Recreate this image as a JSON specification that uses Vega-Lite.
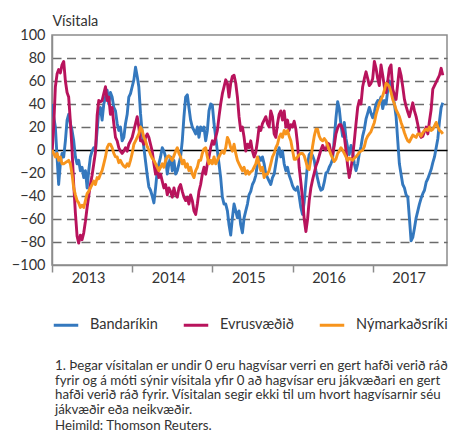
{
"$schema": "https://vega.github.io/schema/vega-lite/v6.json",
"width": 395,
"height": 230,
"autosize": {"type": "none"},
"padding": {"left": 52, "top": 35, "right": 7, "bottom": 170},
"background": "white",
"config": {"font": "Lato", "view": {"stroke": "#8c8c8c", "strokeWidth": 1.5}},
"title": {
"text": ["1. Þegar vísitalan er undir 0 eru hagvísar verri en gert hafði verið ráð", "fyrir og á móti sýnir vísitala yfir 0 að hagvísar eru jákvæðari en gert", "hafði verið ráð fyrir. Vísitalan segir ekki til um hvort hagvísarnir séu", "jákvæðir eða neikvæðir."],
"subtitle": "Heimild: Thomson Reuters.",
"orient": "bottom", "anchor": "start", "frame": "group", "offset": 27,
"fontSize": 13.3, "fontWeight": "normal", "color": "#333333", "lineHeight": 14.6,
"subtitleFontSize": 13.3, "subtitleColor": "#333333", "subtitlePadding": 3, "dx": 3
},
"data": {"values": [
{"t":2013,"Bandaríkin":40,"Evrusvæðið":-3,"Nýmarkaðsríki":0},
{"t":2013.021,"Bandaríkin":29,"Evrusvæðið":20,"Nýmarkaðsríki":-3},
{"t":2013.042,"Bandaríkin":20,"Evrusvæðið":55,"Nýmarkaðsríki":-6},
{"t":2013.063,"Bandaríkin":-6,"Evrusvæðið":66,"Nýmarkaðsríki":-3},
{"t":2013.083,"Bandaríkin":-30,"Evrusvæðið":70,"Nýmarkaðsríki":-9},
{"t":2013.104,"Bandaríkin":-12,"Evrusvæðið":67,"Nýmarkaðsríki":-6},
{"t":2013.125,"Bandaríkin":-3,"Evrusvæðið":74,"Nýmarkaðsríki":-12},
{"t":2013.146,"Bandaríkin":-6,"Evrusvæðið":77,"Nýmarkaðsríki":-12},
{"t":2013.167,"Bandaríkin":8,"Evrusvæðið":60,"Nýmarkaðsríki":-11},
{"t":2013.188,"Bandaríkin":26,"Evrusvæðið":50,"Nýmarkaðsríki":-10},
{"t":2013.208,"Bandaríkin":31,"Evrusvæðið":46,"Nýmarkaðsríki":-9},
{"t":2013.229,"Bandaríkin":23,"Evrusvæðið":25,"Nýmarkaðsríki":-12},
{"t":2013.25,"Bandaríkin":17,"Evrusvæðið":0,"Nýmarkaðsríki":-21},
{"t":2013.271,"Bandaríkin":8,"Evrusvæðið":-30,"Nýmarkaðsríki":-33},
{"t":2013.292,"Bandaríkin":-6,"Evrusvæðið":-55,"Nýmarkaðsríki":-39},
{"t":2013.313,"Bandaríkin":-12,"Evrusvæðið":-75,"Nýmarkaðsríki":-44},
{"t":2013.333,"Bandaríkin":-9,"Evrusvæðið":-81,"Nýmarkaðsríki":-46},
{"t":2013.354,"Bandaríkin":-18,"Evrusvæðið":-74,"Nýmarkaðsríki":-50},
{"t":2013.375,"Bandaríkin":-15,"Evrusvæðið":-78,"Nýmarkaðsríki":-48},
{"t":2013.396,"Bandaríkin":-24,"Evrusvæðið":-72,"Nýmarkaðsríki":-50},
{"t":2013.417,"Bandaríkin":-18,"Evrusvæðið":-62,"Nýmarkaðsríki":-44},
{"t":2013.438,"Bandaríkin":-33,"Evrusvæðið":-50,"Nýmarkaðsríki":-38},
{"t":2013.458,"Bandaríkin":-18,"Evrusvæðið":-40,"Nýmarkaðsríki":-36},
{"t":2013.479,"Bandaríkin":-6,"Evrusvæðið":-30,"Nýmarkaðsríki":-33},
{"t":2013.5,"Bandaríkin":-1,"Evrusvæðið":-22,"Nýmarkaðsríki":-30},
{"t":2013.521,"Bandaríkin":2,"Evrusvæðið":-12,"Nýmarkaðsríki":-27},
{"t":2013.542,"Bandaríkin":-1,"Evrusvæðið":-2,"Nýmarkaðsríki":-30},
{"t":2013.563,"Bandaríkin":17,"Evrusvæðið":30,"Nýmarkaðsríki":-24},
{"t":2013.583,"Bandaríkin":34,"Evrusvæðið":43,"Nýmarkaðsríki":-25},
{"t":2013.604,"Bandaríkin":37,"Evrusvæðið":42,"Nýmarkaðsríki":-21},
{"t":2013.625,"Bandaríkin":26,"Evrusvæðið":43,"Nýmarkaðsríki":-18},
{"t":2013.646,"Bandaríkin":40,"Evrusvæðið":49,"Nýmarkaðsríki":-12},
{"t":2013.667,"Bandaríkin":46,"Evrusvæðið":55,"Nýmarkaðsríki":-6},
{"t":2013.688,"Bandaríkin":52,"Evrusvæðið":43,"Nýmarkaðsríki":2},
{"t":2013.708,"Bandaríkin":40,"Evrusvæðið":46,"Nýmarkaðsríki":5},
{"t":2013.729,"Bandaríkin":50,"Evrusvæðið":31,"Nýmarkaðsríki":5},
{"t":2013.75,"Bandaríkin":46,"Evrusvæðið":37,"Nýmarkaðsríki":2},
{"t":2013.771,"Bandaríkin":37,"Evrusvæðið":23,"Nýmarkaðsríki":-3},
{"t":2013.792,"Bandaríkin":34,"Evrusvæðið":11,"Nýmarkaðsríki":-6},
{"t":2013.813,"Bandaríkin":23,"Evrusvæðið":8,"Nýmarkaðsríki":-6},
{"t":2013.833,"Bandaríkin":17,"Evrusvæðið":2,"Nýmarkaðsríki":-11},
{"t":2013.854,"Bandaríkin":20,"Evrusvæðið":-1,"Nýmarkaðsríki":-9},
{"t":2013.875,"Bandaríkin":8,"Evrusvæðið":-3,"Nýmarkaðsríki":-12},
{"t":2013.896,"Bandaríkin":11,"Evrusvæðið":-1,"Nýmarkaðsríki":-14},
{"t":2013.917,"Bandaríkin":23,"Evrusvæðið":2,"Nýmarkaðsríki":-15},
{"t":2013.938,"Bandaríkin":31,"Evrusvæðið":-1,"Nýmarkaðsríki":-12},
{"t":2013.958,"Bandaríkin":46,"Evrusvæðið":5,"Nýmarkaðsríki":-14},
{"t":2013.979,"Bandaríkin":49,"Evrusvæðið":8,"Nýmarkaðsríki":-9},
{"t":2014,"Bandaríkin":55,"Evrusvæðið":11,"Nýmarkaðsríki":-3},
{"t":2014.021,"Bandaríkin":61,"Evrusvæðið":17,"Nýmarkaðsríki":5},
{"t":2014.042,"Bandaríkin":72,"Evrusvæðið":23,"Nýmarkaðsríki":8},
{"t":2014.063,"Bandaríkin":64,"Evrusvæðið":29,"Nýmarkaðsríki":11},
{"t":2014.083,"Bandaríkin":55,"Evrusvæðið":20,"Nýmarkaðsríki":14},
{"t":2014.104,"Bandaríkin":32,"Evrusvæðið":8,"Nýmarkaðsríki":20},
{"t":2014.125,"Bandaríkin":15,"Evrusvæðið":8,"Nýmarkaðsríki":17},
{"t":2014.146,"Bandaríkin":2,"Evrusvæðið":5,"Nýmarkaðsríki":11},
{"t":2014.167,"Bandaríkin":-10,"Evrusvæðið":11,"Nýmarkaðsríki":8},
{"t":2014.188,"Bandaríkin":-22,"Evrusvæðið":14,"Nýmarkaðsríki":3},
{"t":2014.208,"Bandaríkin":-32,"Evrusvæðið":11,"Nýmarkaðsríki":0},
{"t":2014.229,"Bandaríkin":-35,"Evrusvæðið":5,"Nýmarkaðsríki":-4},
{"t":2014.25,"Bandaríkin":-40,"Evrusvæðið":-1,"Nýmarkaðsríki":-7},
{"t":2014.271,"Bandaríkin":-46,"Evrusvæðið":-12,"Nýmarkaðsríki":-9},
{"t":2014.292,"Bandaríkin":-33,"Evrusvæðið":-21,"Nýmarkaðsríki":-12},
{"t":2014.313,"Bandaríkin":-18,"Evrusvæðið":-15,"Nýmarkaðsríki":-15},
{"t":2014.333,"Bandaríkin":-12,"Evrusvæðið":-24,"Nýmarkaðsríki":-18},
{"t":2014.354,"Bandaríkin":-6,"Evrusvæðið":-21,"Nýmarkaðsríki":-15},
{"t":2014.375,"Bandaríkin":2,"Evrusvæðið":-27,"Nýmarkaðsríki":-12},
{"t":2014.396,"Bandaríkin":-1,"Evrusvæðið":-33,"Nýmarkaðsríki":-15},
{"t":2014.417,"Bandaríkin":-6,"Evrusvæðið":-30,"Nýmarkaðsríki":-9},
{"t":2014.438,"Bandaríkin":-21,"Evrusvæðið":-39,"Nýmarkaðsríki":-6},
{"t":2014.458,"Bandaríkin":-12,"Evrusvæðið":-33,"Nýmarkaðsríki":-5},
{"t":2014.479,"Bandaríkin":-6,"Evrusvæðið":-36,"Nýmarkaðsríki":-7},
{"t":2014.5,"Bandaríkin":-18,"Evrusvæðið":-41,"Nýmarkaðsríki":-9},
{"t":2014.521,"Bandaríkin":-9,"Evrusvæðið":-33,"Nýmarkaðsríki":-5},
{"t":2014.542,"Bandaríkin":-21,"Evrusvæðið":-39,"Nýmarkaðsríki":-1},
{"t":2014.563,"Bandaríkin":-18,"Evrusvæðið":-41,"Nýmarkaðsríki":2},
{"t":2014.583,"Bandaríkin":-12,"Evrusvæðið":-33,"Nýmarkaðsríki":-3},
{"t":2014.604,"Bandaríkin":-6,"Evrusvæðið":-30,"Nýmarkaðsríki":-6},
{"t":2014.625,"Bandaríkin":8,"Evrusvæðið":-36,"Nýmarkaðsríki":-12},
{"t":2014.646,"Bandaríkin":29,"Evrusvæðið":-41,"Nýmarkaðsríki":-9},
{"t":2014.667,"Bandaríkin":46,"Evrusvæðið":-44,"Nýmarkaðsríki":-15},
{"t":2014.688,"Bandaríkin":48,"Evrusvæðið":-41,"Nýmarkaðsríki":-12},
{"t":2014.708,"Bandaríkin":37,"Evrusvæðið":-47,"Nýmarkaðsríki":-18},
{"t":2014.729,"Bandaríkin":26,"Evrusvæðið":-39,"Nýmarkaðsríki":-15},
{"t":2014.75,"Bandaríkin":20,"Evrusvæðið":-44,"Nýmarkaðsríki":-21},
{"t":2014.771,"Bandaríkin":17,"Evrusvæðið":-53,"Nýmarkaðsríki":-24},
{"t":2014.792,"Bandaríkin":14,"Evrusvæðið":-56,"Nýmarkaðsríki":-18},
{"t":2014.813,"Bandaríkin":20,"Evrusvæðið":-47,"Nýmarkaðsríki":-15},
{"t":2014.833,"Bandaríkin":11,"Evrusvæðið":-36,"Nýmarkaðsríki":-9},
{"t":2014.854,"Bandaríkin":20,"Evrusvæðið":-30,"Nýmarkaðsríki":-9},
{"t":2014.875,"Bandaríkin":17,"Evrusvæðið":-21,"Nýmarkaðsríki":-3},
{"t":2014.896,"Bandaríkin":20,"Evrusvæðið":-15,"Nýmarkaðsríki":1},
{"t":2014.917,"Bandaríkin":8,"Evrusvæðið":-21,"Nýmarkaðsríki":2},
{"t":2014.938,"Bandaríkin":17,"Evrusvæðið":-12,"Nýmarkaðsríki":-6},
{"t":2014.958,"Bandaríkin":34,"Evrusvæðið":-6,"Nýmarkaðsríki":-12},
{"t":2014.979,"Bandaríkin":40,"Evrusvæðið":2,"Nýmarkaðsríki":-9},
{"t":2015,"Bandaríkin":39,"Evrusvæðið":8,"Nýmarkaðsríki":-12},
{"t":2015.021,"Bandaríkin":23,"Evrusvæðið":5,"Nýmarkaðsríki":-6},
{"t":2015.042,"Bandaríkin":11,"Evrusvæðið":11,"Nýmarkaðsríki":-12},
{"t":2015.063,"Bandaríkin":-1,"Evrusvæðið":17,"Nýmarkaðsríki":-9},
{"t":2015.083,"Bandaríkin":-12,"Evrusvæðið":29,"Nýmarkaðsríki":-6},
{"t":2015.104,"Bandaríkin":-24,"Evrusvæðið":40,"Nýmarkaðsríki":-3},
{"t":2015.125,"Bandaríkin":-41,"Evrusvæðið":49,"Nýmarkaðsríki":-1},
{"t":2015.146,"Bandaríkin":-47,"Evrusvæðið":55,"Nýmarkaðsríki":-3},
{"t":2015.167,"Bandaríkin":-47,"Evrusvæðið":61,"Nýmarkaðsríki":2},
{"t":2015.188,"Bandaríkin":-53,"Evrusvæðið":58,"Nýmarkaðsríki":11},
{"t":2015.208,"Bandaríkin":-65,"Evrusvæðið":46,"Nýmarkaðsríki":8},
{"t":2015.229,"Bandaríkin":-74,"Evrusvæðið":58,"Nýmarkaðsríki":2},
{"t":2015.25,"Bandaríkin":-59,"Evrusvæðið":64,"Nýmarkaðsríki":-1},
{"t":2015.271,"Bandaríkin":-47,"Evrusvæðið":65,"Nýmarkaðsríki":5},
{"t":2015.292,"Bandaríkin":-53,"Evrusvæðið":58,"Nýmarkaðsríki":-3},
{"t":2015.313,"Bandaríkin":-59,"Evrusvæðið":46,"Nýmarkaðsríki":-9},
{"t":2015.333,"Bandaríkin":-53,"Evrusvæðið":29,"Nýmarkaðsríki":-12},
{"t":2015.354,"Bandaríkin":-65,"Evrusvæðið":17,"Nýmarkaðsríki":-15},
{"t":2015.375,"Bandaríkin":-72,"Evrusvæðið":20,"Nýmarkaðsríki":-18},
{"t":2015.396,"Bandaríkin":-59,"Evrusvæðið":11,"Nýmarkaðsríki":-15},
{"t":2015.417,"Bandaríkin":-53,"Evrusvæðið":-1,"Nýmarkaðsríki":-21},
{"t":2015.438,"Bandaríkin":-47,"Evrusvæðið":5,"Nýmarkaðsríki":-18},
{"t":2015.458,"Bandaríkin":-39,"Evrusvæðið":2,"Nýmarkaðsríki":-21},
{"t":2015.479,"Bandaríkin":-36,"Evrusvæðið":8,"Nýmarkaðsríki":-19},
{"t":2015.5,"Bandaríkin":-30,"Evrusvæðið":-1,"Nýmarkaðsríki":-18},
{"t":2015.521,"Bandaríkin":-27,"Evrusvæðið":-6,"Nýmarkaðsríki":-15},
{"t":2015.542,"Bandaríkin":-22,"Evrusvæðið":-2,"Nýmarkaðsríki":-12},
{"t":2015.563,"Bandaríkin":-12,"Evrusvæðið":8,"Nýmarkaðsríki":-6},
{"t":2015.583,"Bandaríkin":-6,"Evrusvæðið":20,"Nýmarkaðsríki":-12},
{"t":2015.604,"Bandaríkin":-9,"Evrusvæðið":17,"Nýmarkaðsríki":-18},
{"t":2015.625,"Bandaríkin":-6,"Evrusvæðið":23,"Nýmarkaðsríki":-15},
{"t":2015.646,"Bandaríkin":-12,"Evrusvæðið":26,"Nýmarkaðsríki":-24},
{"t":2015.667,"Bandaríkin":-21,"Evrusvæðið":29,"Nýmarkaðsríki":-21},
{"t":2015.688,"Bandaríkin":-24,"Evrusvæðið":23,"Nýmarkaðsríki":-21},
{"t":2015.708,"Bandaríkin":-27,"Evrusvæðið":20,"Nýmarkaðsríki":-18},
{"t":2015.729,"Bandaríkin":-30,"Evrusvæðið":34,"Nýmarkaðsríki":-12},
{"t":2015.75,"Bandaríkin":-24,"Evrusvæðið":29,"Nýmarkaðsríki":-6},
{"t":2015.771,"Bandaríkin":-21,"Evrusvæðið":14,"Nýmarkaðsríki":-3},
{"t":2015.792,"Bandaríkin":-12,"Evrusvæðið":11,"Nýmarkaðsríki":2},
{"t":2015.813,"Bandaríkin":-3,"Evrusvæðið":23,"Nýmarkaðsríki":5},
{"t":2015.833,"Bandaríkin":2,"Evrusvæðið":31,"Nýmarkaðsríki":11},
{"t":2015.854,"Bandaríkin":-6,"Evrusvæðið":34,"Nýmarkaðsríki":14},
{"t":2015.875,"Bandaríkin":-1,"Evrusvæðið":26,"Nýmarkaðsríki":11},
{"t":2015.896,"Bandaríkin":-12,"Evrusvæðið":34,"Nýmarkaðsríki":17},
{"t":2015.917,"Bandaríkin":-18,"Evrusvæðið":20,"Nýmarkaðsríki":14},
{"t":2015.938,"Bandaríkin":-15,"Evrusvæðið":26,"Nýmarkaðsríki":17},
{"t":2015.958,"Bandaríkin":-22,"Evrusvæðið":17,"Nýmarkaðsríki":12},
{"t":2015.979,"Bandaríkin":-26,"Evrusvæðið":22,"Nýmarkaðsríki":8},
{"t":2016,"Bandaríkin":-31,"Evrusvæðið":20,"Nýmarkaðsríki":0},
{"t":2016.021,"Bandaríkin":-34,"Evrusvæðið":25,"Nýmarkaðsríki":-8},
{"t":2016.042,"Bandaríkin":-35,"Evrusvæðið":18,"Nýmarkaðsríki":-8},
{"t":2016.063,"Bandaríkin":-32,"Evrusvæðið":5,"Nýmarkaðsríki":-6},
{"t":2016.083,"Bandaríkin":-40,"Evrusvæðið":-15,"Nýmarkaðsríki":-4},
{"t":2016.104,"Bandaríkin":-50,"Evrusvæðið":-28,"Nýmarkaðsríki":-3},
{"t":2016.125,"Bandaríkin":-56,"Evrusvæðið":-42,"Nýmarkaðsríki":-3},
{"t":2016.146,"Bandaríkin":-45,"Evrusvæðið":-60,"Nýmarkaðsríki":-5},
{"t":2016.167,"Bandaríkin":-28,"Evrusvæðið":-71,"Nýmarkaðsríki":-10},
{"t":2016.188,"Bandaríkin":-12,"Evrusvæðið":-60,"Nýmarkaðsríki":-16},
{"t":2016.208,"Bandaríkin":-4,"Evrusvæðið":-44,"Nýmarkaðsríki":-17},
{"t":2016.229,"Bandaríkin":-2,"Evrusvæðið":-33,"Nýmarkaðsríki":-8},
{"t":2016.25,"Bandaríkin":-5,"Evrusvæðið":-26,"Nýmarkaðsríki":3},
{"t":2016.271,"Bandaríkin":-9,"Evrusvæðið":-20,"Nýmarkaðsríki":12},
{"t":2016.292,"Bandaríkin":-18,"Evrusvæðið":-14,"Nýmarkaðsríki":18},
{"t":2016.313,"Bandaríkin":-25,"Evrusvæðið":-10,"Nýmarkaðsríki":18},
{"t":2016.333,"Bandaríkin":-31,"Evrusvæðið":-5,"Nýmarkaðsríki":12},
{"t":2016.354,"Bandaríkin":-35,"Evrusvæðið":0,"Nýmarkaðsríki":9},
{"t":2016.375,"Bandaríkin":-34,"Evrusvæðið":4,"Nýmarkaðsríki":8},
{"t":2016.396,"Bandaríkin":-28,"Evrusvæðið":1,"Nýmarkaðsríki":10},
{"t":2016.417,"Bandaríkin":-20,"Evrusvæðið":0,"Nýmarkaðsríki":8},
{"t":2016.438,"Bandaríkin":-19,"Evrusvæðið":6,"Nýmarkaðsríki":4},
{"t":2016.458,"Bandaríkin":-15,"Evrusvæðið":5,"Nýmarkaðsríki":0},
{"t":2016.479,"Bandaríkin":-12,"Evrusvæðið":-2,"Nýmarkaðsríki":-4},
{"t":2016.5,"Bandaríkin":-8,"Evrusvæðið":-4,"Nýmarkaðsríki":-7},
{"t":2016.521,"Bandaríkin":10,"Evrusvæðið":4,"Nýmarkaðsríki":-10},
{"t":2016.542,"Bandaríkin":28,"Evrusvæðið":14,"Nýmarkaðsríki":-8},
{"t":2016.563,"Bandaríkin":42,"Evrusvæðið":19,"Nýmarkaðsríki":-3},
{"t":2016.583,"Bandaríkin":36,"Evrusvæðið":22,"Nýmarkaðsríki":-1},
{"t":2016.604,"Bandaríkin":22,"Evrusvæðið":22,"Nýmarkaðsríki":2},
{"t":2016.625,"Bandaríkin":12,"Evrusvæðið":18,"Nýmarkaðsríki":0},
{"t":2016.646,"Bandaríkin":24,"Evrusvæðið":12,"Nýmarkaðsríki":-3},
{"t":2016.667,"Bandaríkin":10,"Evrusvæðið":0,"Nýmarkaðsríki":-6},
{"t":2016.688,"Bandaríkin":2,"Evrusvæðið":-14,"Nýmarkaðsríki":-9},
{"t":2016.708,"Bandaríkin":-4,"Evrusvæðið":-24,"Nýmarkaðsríki":-7},
{"t":2016.729,"Bandaríkin":4,"Evrusvæðið":-16,"Nýmarkaðsríki":-8},
{"t":2016.75,"Bandaríkin":-2,"Evrusvæðið":-6,"Nýmarkaðsríki":-9},
{"t":2016.771,"Bandaríkin":-12,"Evrusvæðið":8,"Nýmarkaðsríki":-7},
{"t":2016.792,"Bandaríkin":-18,"Evrusvæðið":23,"Nýmarkaðsríki":-6},
{"t":2016.813,"Bandaríkin":-12,"Evrusvæðið":37,"Nýmarkaðsríki":-4},
{"t":2016.833,"Bandaríkin":-3,"Evrusvæðið":43,"Nýmarkaðsríki":-2},
{"t":2016.854,"Bandaríkin":3,"Evrusvæðið":40,"Nýmarkaðsríki":-1},
{"t":2016.875,"Bandaríkin":12,"Evrusvæðið":55,"Nýmarkaðsríki":0},
{"t":2016.896,"Bandaríkin":18,"Evrusvæðið":62,"Nýmarkaðsríki":3},
{"t":2016.917,"Bandaríkin":27,"Evrusvæðið":68,"Nýmarkaðsríki":9},
{"t":2016.938,"Bandaríkin":32,"Evrusvæðið":62,"Nýmarkaðsríki":12},
{"t":2016.958,"Bandaríkin":37,"Evrusvæðið":56,"Nýmarkaðsríki":14},
{"t":2016.979,"Bandaríkin":32,"Evrusvæðið":58,"Nýmarkaðsríki":16},
{"t":2017,"Bandaríkin":28,"Evrusvæðið":62,"Nýmarkaðsríki":20},
{"t":2017.021,"Bandaríkin":33,"Evrusvæðið":77,"Nýmarkaðsríki":24},
{"t":2017.042,"Bandaríkin":40,"Evrusvæðið":71,"Nýmarkaðsríki":31},
{"t":2017.063,"Bandaríkin":43,"Evrusvæðið":62,"Nýmarkaðsríki":36},
{"t":2017.083,"Bandaríkin":42,"Evrusvæðið":56,"Nýmarkaðsríki":41},
{"t":2017.104,"Bandaríkin":46,"Evrusvæðið":74,"Nýmarkaðsríki":44},
{"t":2017.125,"Bandaríkin":36,"Evrusvæðið":65,"Nýmarkaðsríki":47},
{"t":2017.146,"Bandaríkin":43,"Evrusvæðið":55,"Nýmarkaðsríki":52},
{"t":2017.167,"Bandaríkin":40,"Evrusvæðið":50,"Nýmarkaðsríki":58},
{"t":2017.188,"Bandaríkin":52,"Evrusvæðið":60,"Nýmarkaðsríki":57},
{"t":2017.208,"Bandaríkin":60,"Evrusvæðið":71,"Nýmarkaðsríki":55},
{"t":2017.229,"Bandaríkin":55,"Evrusvæðið":74,"Nýmarkaðsríki":50},
{"t":2017.25,"Bandaríkin":48,"Evrusvæðið":53,"Nýmarkaðsríki":44},
{"t":2017.271,"Bandaríkin":40,"Evrusvæðið":48,"Nýmarkaðsríki":40},
{"t":2017.292,"Bandaríkin":29,"Evrusvæðið":44,"Nýmarkaðsríki":35},
{"t":2017.313,"Bandaríkin":8,"Evrusvæðið":58,"Nýmarkaðsríki":32},
{"t":2017.333,"Bandaríkin":-12,"Evrusvæðið":71,"Nýmarkaðsríki":29},
{"t":2017.354,"Bandaríkin":-21,"Evrusvæðið":65,"Nýmarkaðsríki":24},
{"t":2017.375,"Bandaríkin":-30,"Evrusvæðið":55,"Nýmarkaðsríki":20},
{"t":2017.396,"Bandaríkin":-33,"Evrusvæðið":44,"Nýmarkaðsríki":15},
{"t":2017.417,"Bandaríkin":-39,"Evrusvæðið":38,"Nýmarkaðsríki":11},
{"t":2017.438,"Bandaríkin":-41,"Evrusvæðið":33,"Nýmarkaðsríki":8},
{"t":2017.458,"Bandaríkin":-59,"Evrusvæðið":29,"Nýmarkaðsríki":7},
{"t":2017.479,"Bandaríkin":-79,"Evrusvæðið":35,"Nýmarkaðsríki":10},
{"t":2017.5,"Bandaríkin":-76,"Evrusvæðið":41,"Nýmarkaðsríki":13},
{"t":2017.521,"Bandaríkin":-68,"Evrusvæðið":34,"Nýmarkaðsríki":12},
{"t":2017.542,"Bandaríkin":-59,"Evrusvæðið":29,"Nýmarkaðsríki":11},
{"t":2017.563,"Bandaríkin":-53,"Evrusvæðið":22,"Nýmarkaðsríki":14},
{"t":2017.583,"Bandaríkin":-47,"Evrusvæðið":14,"Nýmarkaðsríki":14},
{"t":2017.604,"Bandaríkin":-42,"Evrusvæðið":11,"Nýmarkaðsríki":12},
{"t":2017.625,"Bandaríkin":-38,"Evrusvæðið":12,"Nýmarkaðsríki":15},
{"t":2017.646,"Bandaríkin":-35,"Evrusvæðið":16,"Nýmarkaðsríki":17},
{"t":2017.667,"Bandaríkin":-28,"Evrusvæðið":20,"Nýmarkaðsríki":18},
{"t":2017.688,"Bandaríkin":-25,"Evrusvæðið":14,"Nýmarkaðsríki":17},
{"t":2017.708,"Bandaríkin":-21,"Evrusvæðið":25,"Nýmarkaðsríki":20},
{"t":2017.729,"Bandaríkin":-17,"Evrusvæðið":35,"Nýmarkaðsríki":17},
{"t":2017.75,"Bandaríkin":-11,"Evrusvæðið":53,"Nýmarkaðsríki":18},
{"t":2017.771,"Bandaríkin":-6,"Evrusvæðið":56,"Nýmarkaðsríki":21},
{"t":2017.792,"Bandaríkin":2,"Evrusvæðið":59,"Nýmarkaðsríki":24},
{"t":2017.813,"Bandaríkin":10,"Evrusvæðið":62,"Nýmarkaðsríki":20},
{"t":2017.833,"Bandaríkin":25,"Evrusvæðið":65,"Nýmarkaðsríki":17},
{"t":2017.854,"Bandaríkin":37,"Evrusvæðið":71,"Nýmarkaðsríki":16},
{"t":2017.875,"Bandaríkin":41,"Evrusvæðið":65,"Nýmarkaðsríki":14}
]},
"transform": [{"fold": ["Bandaríkin", "Evrusvæðið", "Nýmarkaðsríki"], "as": ["land", "v"]}],
"mark": {"type": "line", "strokeWidth": 2.9, "strokeJoin": "round", "clip": true},
"encoding": {
"x": {"field": "t", "type": "quantitative",
"scale": {"domain": [2013, 2017.927], "nice": false, "zero": false},
"axis": {"values": [2013, 2014, 2015, 2016, 2017], "format": "d", "title": null, "grid": false, "labelOffset": 36, "tickSize": 7, "tickColor": "#8c8c8c", "tickWidth": 1.5, "domainColor": "#8c8c8c", "domainWidth": 1.5, "labelFontSize": 14.5, "labelColor": "#333333", "labelPadding": -1, "labelFlush": false, "labelBound": false}},
"y": {"field": "v", "type": "quantitative",
"scale": {"domain": [-100, 100], "nice": false},
"axis": {"values": [-100, -80, -60, -40, -20, 0, 20, 40, 60, 80, 100], "title": "Vísitala", "titleAngle": 0, "titleAlign": "left", "titleBaseline": "alphabetic", "titleX": 0, "titleY": -10, "titleFontSize": 14.5, "titleFontWeight": "normal", "titleColor": "#333333", "ticks": false, "labelPadding": 7, "labelFontSize": 14.5, "labelColor": "#333333", "domainColor": "#8c8c8c", "domainWidth": 1.5, "gridWidth": 1.4,
"gridColor": {"condition": {"test": "datum.value === 0", "value": "#000000"}, "value": "#6b6b6b"},
"gridDash": {"condition": {"test": "datum.value === 0", "value": []}, "value": [9, 5.5]},
"gridOpacity": {"condition": {"test": "abs(datum.value) === 100", "value": 0}, "value": 1}}},
"color": {"field": "land", "type": "nominal",
"scale": {"domain": ["Bandaríkin", "Evrusvæðið", "Nýmarkaðsríki"], "range": ["#3478BE", "#B8135C", "#F7941D"]},
"legend": {"orient": "none", "legendX": 0, "legendY": 276, "direction": "horizontal", "title": null, "symbolType": "stroke", "symbolStrokeWidth": 3, "symbolSize": 600, "labelFontSize": 14.5, "labelColor": "#333333", "labelOffset": 10, "columnPadding": 19}}
}
}
